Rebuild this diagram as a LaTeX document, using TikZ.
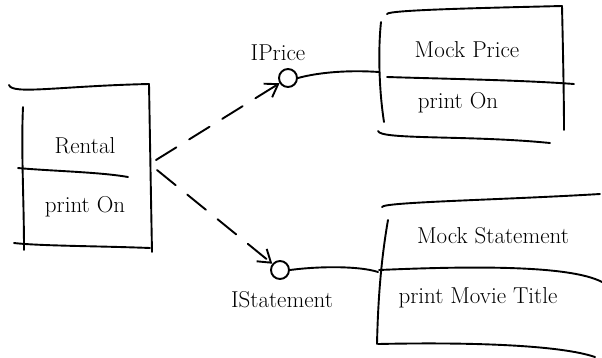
\documentclass[tikz,border=0pt]{standalone}
\usetikzlibrary{arrows.meta}
\begin{document}
\begin{tikzpicture}[x=1pt,y=-1pt,
  pen/.style={line width=1.9pt, line cap=round, line join=round},
  lbl/.style={font=\fontsize{23}{26}\selectfont, inner sep=1pt},
  lolly/.style={circle, draw, pen, minimum size=18pt, inner sep=0pt},
  dep/.style={pen, dash pattern=on 24pt off 15pt,
    -{Straight Barb[length=12pt,width=16pt,line width=1.9pt]}}]
\useasboundingbox (0,0) rectangle (602,357);

% --- Rental class ---
\draw[pen] (9,85) .. controls (12,95) and (60,86) .. (149,84);
\draw[pen] (23,107) .. controls (21,150) and (24,200) .. (24,250);
\draw[pen] (149,84) .. controls (150,140) and (151,200) .. (152,252);
\draw[pen] (14,243) .. controls (40,246) and (100,246) .. (150,248);
\draw[pen] (18,168) .. controls (50,171) and (100,172) .. (128,177);
\node[lbl] (rental) at (85,146) {Rental};
\node[lbl] (rentalop) at (85,207) {print On};
\coordinate (rentalA) at (156,160);
\coordinate (rentalB) at (157,170);

% --- Mock Price class ---
\draw[pen] (387,14) .. controls (388,10) and (480,8) .. (562,6);
\draw[pen] (381,22) .. controls (378,50) and (379,90) .. (384,122);
\draw[pen] (562,6) .. controls (563,50) and (564,100) .. (564,130);
\draw[pen] (387,77) .. controls (450,79) and (520,80) .. (574,84);
\draw[pen] (378,131) .. controls (380,140) and (470,135) .. (550,143);
\node[lbl] (mockprice) at (467,50) {Mock Price};
\node[lbl] (mockpriceop) at (458,103) {print On};
\coordinate (mockpriceL) at (379,72);

% --- Mock Statement class ---
\draw[pen] (382,207) .. controls (383,202) and (500,200) .. (600,194);
\draw[pen] (388,220) .. controls (381,260) and (378,300) .. (377,344);
\draw[pen] (379,270) .. controls (470,266) and (570,265) .. (602,282);
\draw[pen] (378,344) .. controls (470,342) and (560,345) .. (595,357);
\node[lbl] (mockstmt) at (493,236) {Mock Statement};
\node[lbl] (mockstmtop) at (478,298) {print Movie Title};
\coordinate (mockstmtL) at (378,272);

% --- provided interfaces ---
\node[lolly] (iprice) at (288,78) {};
\node[lbl] at (278,53) {IPrice};
\node[lolly] (istmt) at (280,270) {};
\node[lbl] at (282,300) {IStatement};
\draw[pen] (iprice.east) .. controls (320,72) and (350,70) .. (mockpriceL);
\draw[pen] (istmt.east) .. controls (320,266) and (360,266) .. (mockstmtL);

% --- dependencies on the interfaces ---
\draw[dep] (rentalA) -- (iprice);
\draw[dep] (rentalB) -- (istmt);
\end{tikzpicture}
\end{document}
